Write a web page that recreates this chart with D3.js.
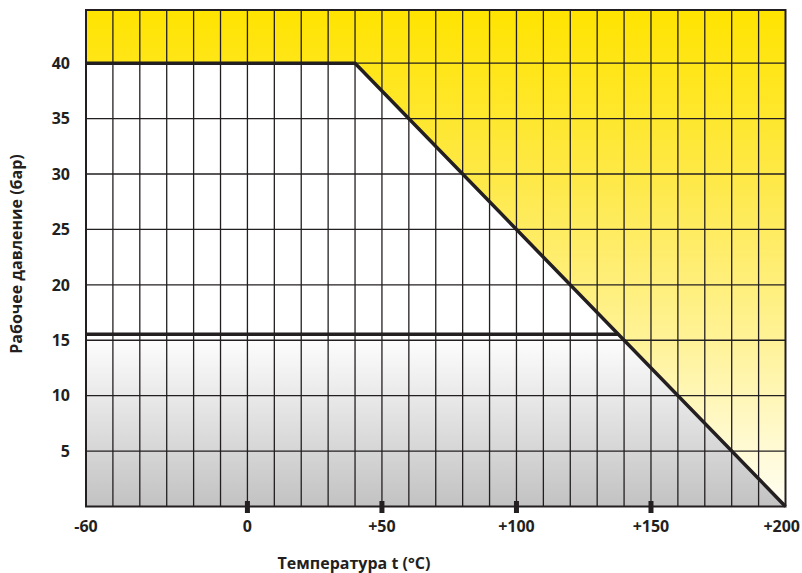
<!DOCTYPE html>
<html>
<head>
<meta charset="utf-8">
<script src="https://cdn.jsdelivr.net/npm/d3@7"></script>
<style>
  body { margin: 0; background: #fff; }
  svg text { font-family: "Open Sans", Lato, sans-serif; font-weight: 700; fill: #231f20; }
</style>
</head>
<body>
<svg id="chart" width="802" height="573"></svg>
<script>
// temperature axis labels
var xLabels = [-60, 0, 50, 100, 150, 200];
var xMarks = [0, 50, 100, 150];
// pressure axis labels
var yLabels = [5, 10, 15, 20, 25, 30, 35, 40];
// working pressure limit: plateau then linear drop
var limitTemp = [-60, 40, 200];
var limitPress = [40, 40, 0];
// lower pressure level
var lowPress = 15.55;
var lowEndTemp = 137.8;

var svg = d3.select('#chart');
var x = d3.scaleLinear().domain([-60, 200]).range([86, 785.5]);
var y = d3.scaleLinear().domain([0, 44.8]).range([506.5, 10]);
var topP = y.domain()[1];

var defs = svg.append('defs');
var gy = defs.append('linearGradient').attr('id', 'yel')
  .attr('gradientUnits', 'userSpaceOnUse')
  .attr('x1', 0).attr('x2', 0).attr('y1', y(topP)).attr('y2', y(0));
[[0, '#ffe400'], [0.35, '#fee94a'], [0.65, '#fff293'], [1, '#fffef4']].forEach(function(s) {
  gy.append('stop').attr('offset', s[0]).attr('stop-color', s[1]);
});
var gg = defs.append('linearGradient').attr('id', 'gry')
  .attr('gradientUnits', 'userSpaceOnUse')
  .attr('x1', 0).attr('x2', 0).attr('y1', y(lowPress)).attr('y2', y(0));
gg.append('stop').attr('offset', 0).attr('stop-color', '#ffffff');
gg.append('stop').attr('offset', 1).attr('stop-color', '#c2c2c2');

var limitPts = limitTemp.map(function(t, i) { return [t, limitPress[i]]; });
var line = d3.line().x(function(d) { return x(d[0]) }).y(function(d) { return y(d[1]) });

// white plot background
svg.append('rect').attr('x', x(-60)).attr('y', y(topP))
  .attr('width', x(200) - x(-60)).attr('height', y(0) - y(topP)).style('fill', '#fff');

// yellow zone above limit
var yelPts = [[-60, topP], [200, topP]].concat(limitPts.slice().reverse());
svg.append('path').attr('d', line(yelPts) + 'Z').style('fill', 'url(#yel)');

// gray zone below low level
var grayPts = [[-60, lowPress], [lowEndTemp, lowPress], [200, 0], [-60, 0]];
svg.append('path').attr('d', line(grayPts) + 'Z').style('fill', 'url(#gry)');

// grid
var grid = svg.append('g').style('stroke', '#231f20').style('stroke-width', 1.3);
d3.range(-50, 200, 10).forEach(function(t) {
  grid.append('line').attr('x1', x(t)).attr('x2', x(t)).attr('y1', y(topP)).attr('y2', y(0));
});
yLabels.forEach(function(p) {
  grid.append('line').attr('x1', x(-60)).attr('x2', x(200)).attr('y1', y(p)).attr('y2', y(p));
});
grid.append('rect').attr('x', x(-60)).attr('y', y(topP))
  .attr('width', x(200) - x(-60)).attr('height', y(0) - y(topP))
  .style('fill', 'none').style('stroke-width', 2);

// thick limit lines
svg.append('path').attr('d', line(limitPts))
  .style('fill', 'none').style('stroke', '#231f20').style('stroke-width', 3.5);
svg.append('path').attr('d', line([[-60, lowPress], [lowEndTemp, lowPress]]))
  .style('fill', 'none').style('stroke', '#231f20').style('stroke-width', 3.5);

// tick marks on temperature axis
svg.append('g').selectAll('rect').data(xMarks).enter().append('rect')
  .attr('x', function(d) { return x(d) - 2.5 }).attr('y', y(0) - 5.5)
  .attr('width', 5).attr('height', 12).style('fill', '#231f20');

// labels
svg.append('g').selectAll('text').data(xLabels).enter().append('text')
  .attr('x', function(d) { return d == 200 ? 800 : x(d) })
  .attr('y', 532)
  .attr('text-anchor', function(d) { return d == 200 ? 'end' : 'middle' })
  .style('font-size', '16px')
  .text(function(d) { return d > 0 ? '+' + d : d });

svg.append('g').selectAll('text').data(yLabels).enter().append('text')
  .attr('x', 70).attr('y', function(d) { return y(d) })
  .attr('dy', '0.36em').attr('text-anchor', 'end')
  .style('font-size', '16px')
  .text(function(d) { return d });

svg.append('text').attr('x', 354).attr('y', 569).attr('text-anchor', 'middle')
  .style('font-size', '16px').text('Температура t (°C)');

svg.append('text').attr('transform', 'translate(22,254) rotate(-90)')
  .attr('text-anchor', 'middle').style('font-size', '16px')
  .text('Рабочее давление (бар)');
</script>
</body>
</html>
